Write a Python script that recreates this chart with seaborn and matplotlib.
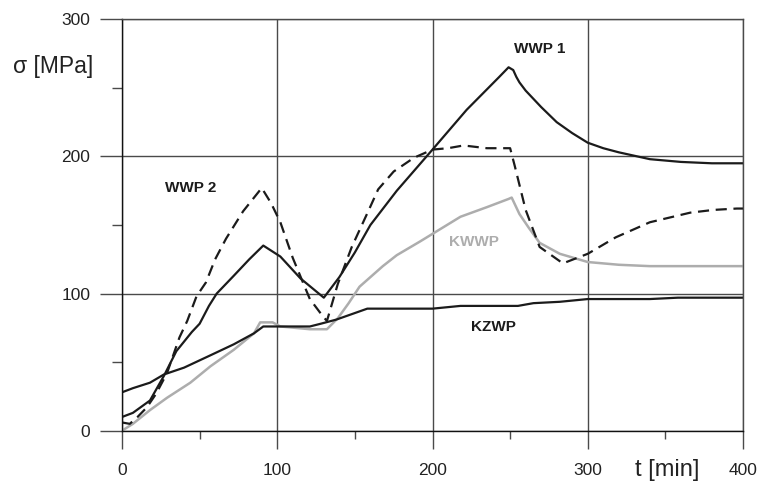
import numpy as np
import pandas as pd
import seaborn as sns
import matplotlib
matplotlib.use("Agg")
import matplotlib.pyplot as plt
from matplotlib.ticker import MultipleLocator

# Stress history σ(t) for the four welding variants
wwp1_t = [0, 7, 18, 27, 35, 45, 50, 56, 61, 72, 82, 91, 102, 115, 130, 140, 150, 160,
          177, 200, 222, 243, 249, 252, 254, 256, 260, 270, 280, 290, 300, 310, 320,
          340, 360, 380, 400]
wwp1_s = [10, 13, 22, 40, 58, 72, 78, 91, 100, 113, 125, 135, 127, 111, 97, 112, 130, 150,
          175, 205, 234, 258, 265, 263, 258, 254, 248, 236, 225, 217, 210, 206, 203,
          198, 196, 195, 195]

wwp2_t = [0, 5, 10, 16, 22, 29, 37, 42, 48, 54, 60, 67, 78, 90, 96, 102, 110, 121, 129,
          132, 139, 148, 159, 165, 175, 188, 200, 210, 220, 235, 250, 253, 260, 269, 284,
          300, 318, 340, 366, 381, 396, 400]
wwp2_s = [6, 5, 10, 17, 27, 42, 68, 80, 98, 108, 125, 140, 160, 177, 166, 152, 126, 96, 84,
          80, 107, 134, 161, 176, 189, 199, 205, 206, 208, 206, 206, 193, 161, 134, 122,
          129, 141, 152, 159, 161, 162, 162]

kwwp_t = [0, 7, 18, 29, 44, 57, 72, 85, 89, 97, 102, 121, 132, 139, 146, 153, 159, 168,
          177, 192, 218, 235, 249, 251, 256, 262, 269, 282, 300, 320, 340, 400]
kwwp_s = [0, 5, 15, 24, 35, 47, 59, 71, 79, 79, 76, 74, 74, 82, 93, 105, 111, 120,
          128, 138, 156, 163, 169, 170, 158, 148, 137, 129, 123, 121, 120, 120]

kzwp_t = [0, 7, 18, 27, 40, 57, 72, 85, 91, 100, 121, 128, 138, 148, 158, 200, 218, 255,
          265, 282, 300, 340, 358, 400]
kzwp_s = [28, 31, 35, 41, 46, 55, 63, 71, 76, 76, 76, 78, 81, 85, 89, 89, 91, 91,
          93, 94, 96, 96, 97, 97]

series_names = ["WWP 1", "WWP 2", "KWWP", "KZWP"]
x_ticks = [0, 100, 200, 300, 400]
y_ticks = [0, 100, 200, 300]

sns.set_style("white")
plt.rcParams["font.family"] = ["Liberation Sans", "DejaVu Sans"]

fig = plt.figure(figsize=(7.6, 4.87), dpi=100)
ax = fig.add_axes([122 / 760, 1 - 430.7 / 487, (743 - 122) / 760, (430.7 - 19.3) / 487])

black = "#1b1b1b"
grey = "#adadad"
gridc = "#4a4a4a"

sns.lineplot(x=kwwp_t, y=kwwp_s, ax=ax, color=grey, linewidth=1.8, estimator=None)
sns.lineplot(x=kzwp_t, y=kzwp_s, ax=ax, color=black, linewidth=1.6, estimator=None)
sns.lineplot(x=wwp1_t, y=wwp1_s, ax=ax, color=black, linewidth=1.6, estimator=None)
sns.lineplot(x=wwp2_t, y=wwp2_s, ax=ax, color=black, linewidth=1.6, estimator=None)
ax.lines[-1].set_dashes((5, 3))

ax.set_xlim(0, 400)
ax.set_ylim(0, 300)
ax.set_xticks(x_ticks)
ax.set_yticks(y_ticks)
ax.xaxis.set_minor_locator(MultipleLocator(50))
ax.yaxis.set_minor_locator(MultipleLocator(50))
ax.set_xticklabels([str(v) for v in x_ticks])
ax.set_yticklabels([str(v) for v in y_ticks])

ax.grid(True, which="major", color=gridc, linewidth=1.0)
ax.set_axisbelow(True)
for side in ["top", "right"]:
    ax.spines[side].set_color(gridc)
    ax.spines[side].set_linewidth(1.0)
for side in ["left", "bottom"]:
    ax.spines[side].set_color("#111111")
    ax.spines[side].set_linewidth(1.0)

ax.tick_params(axis="x", which="both", bottom=True, top=False)
ax.tick_params(axis="y", which="both", left=True, right=False)
ax.tick_params(axis="x", which="major", direction="out", length=13, width=1.0,
               color=gridc, pad=10, labelsize=12.5, labelcolor="#222222")
ax.tick_params(axis="x", which="minor", direction="out", length=5.8, width=1.0,
               color=gridc)
ax.tick_params(axis="y", which="major", direction="out", length=15.8, width=1.0,
               color=gridc, pad=7, labelsize=12.5, labelcolor="#222222")
ax.tick_params(axis="y", which="minor", direction="out", length=7.2, width=1.0,
               color=gridc)
ax.set_xlabel("")
ax.set_ylabel("")

# Series labels
ax.text(269, 278, series_names[0], fontsize=11, fontweight="bold", color=black,
        ha="center", va="center")
ax.text(44.5, 177, series_names[1], fontsize=11, fontweight="bold", color=black,
        ha="center", va="center")
ax.text(227, 137.5, series_names[2], fontsize=11, fontweight="bold", color=grey,
        ha="center", va="center")
ax.text(239, 75.5, series_names[3], fontsize=11, fontweight="bold", color=black,
        ha="center", va="center")

# Axis titles
fig.text(53 / 760, 1 - 67 / 487, "σ [MPa]", fontsize=16.5, color="#222222",
         ha="center", va="center")
fig.text(667 / 760, 1 - 470 / 487, "t [min]", fontsize=17, color="#222222",
         ha="center", va="center")

fig.savefig("out.png", dpi=100)
